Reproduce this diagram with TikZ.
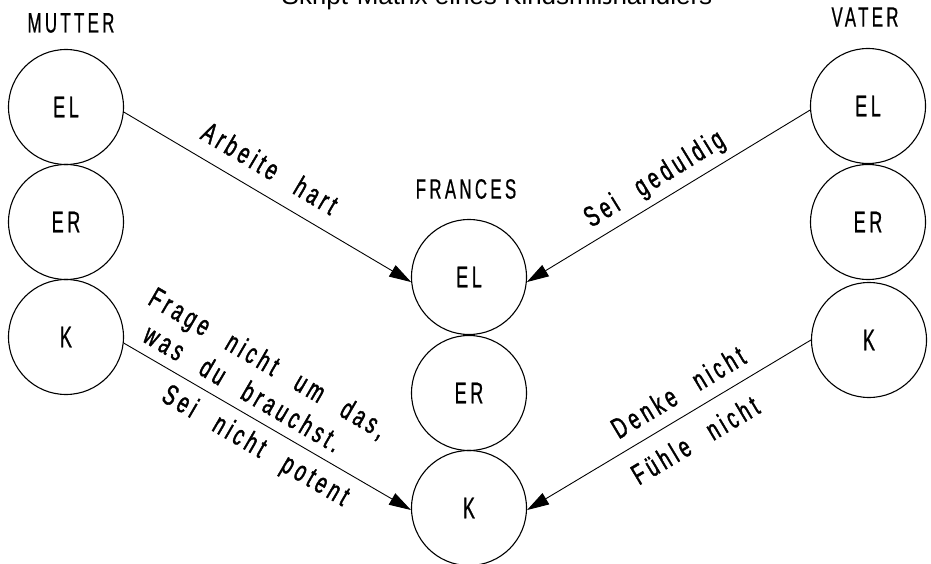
\documentclass[tikz,border=0pt]{standalone}
\usepackage{fontspec}
\setmainfont{Liberation Sans}
\newfontfamily\headfont[FakeStretch=0.6,LetterSpace=12,FakeBold=0.6]{Liberation Sans}
\newfontfamily\linefont[FakeStretch=0.65,LetterSpace=14,WordSpace=2.5,FakeBold=1.4]{Liberation Sans}
\usetikzlibrary{arrows.meta}
\begin{document}
\begin{tikzpicture}[x=1pt,y=-1pt,
  ring/.style={circle,draw,line width=1.1pt,minimum size=115pt,inner sep=0pt,
    font=\headfont\fontsize{30}{32}\selectfont},
  head/.style={font=\headfont\fontsize{28}{30}\selectfont,inner sep=0pt},
  lab/.style={font=\linefont\fontsize{29}{31}\selectfont,inner sep=0pt},
  conn/.style={line width=0.9pt,-{Triangle[length=22pt,width=13pt]}}]
\useasboundingbox (0,0) rectangle (931,564);
% title (cut off at top)
\node[anchor=base,font=\fontsize{26}{28}\selectfont,inner sep=0pt] (title) at (497,5) {Skript-Matrix eines Kindsmißhandlers};
% headings
\node[head] (mutter) at (71,23) {MUTTER};
\node[head] (frances) at (466,189) {FRANCES};
\node[head] (vater) at (865,17) {VATER};
% Mutter
\node[ring] (mEL) at (66,107) {EL};
\node[ring] (mER) at (66,222) {ER};
\node[ring] (mK)  at (66,337) {K};
% Frances
\node[ring] (fEL) at (469,277) {EL};
\node[ring] (fER) at (469,393) {ER};
\node[ring] (fK)  at (469,508) {K};
% Vater
\node[ring] (vEL) at (868,106) {EL};
\node[ring] (vER) at (868,222) {ER};
\node[ring] (vK)  at (869,340) {K};
% connectors
\draw[conn] (mEL.-5) -- (fEL.185);
\draw[conn] (vEL.184) -- (fEL.-5);
\draw[conn] (mK.-6) -- (fK.182);
\draw[conn] (vK.180) -- (fK.-2);
% labels
\node[lab,rotate=-30.6] (l1) at (270,168) {Arbeite hart};
\node[lab,rotate=31.6] (l2) at (655,180) {Sei geduldig};
\node[lab,rotate=-30.2] (l3) at (267,365) {Frage nicht um das,};
\node[lab,rotate=-30.2] (l4) at (243,388) {was du brauchst.};
\node[lab,rotate=-30.2] (l5) at (255,447) {Sei nicht potent};
\node[lab,rotate=30.9] (l6) at (678,392) {Denke nicht};
\node[lab,rotate=30.9] (l7) at (695,440) {Fühle nicht};
\end{tikzpicture}
\end{document}
